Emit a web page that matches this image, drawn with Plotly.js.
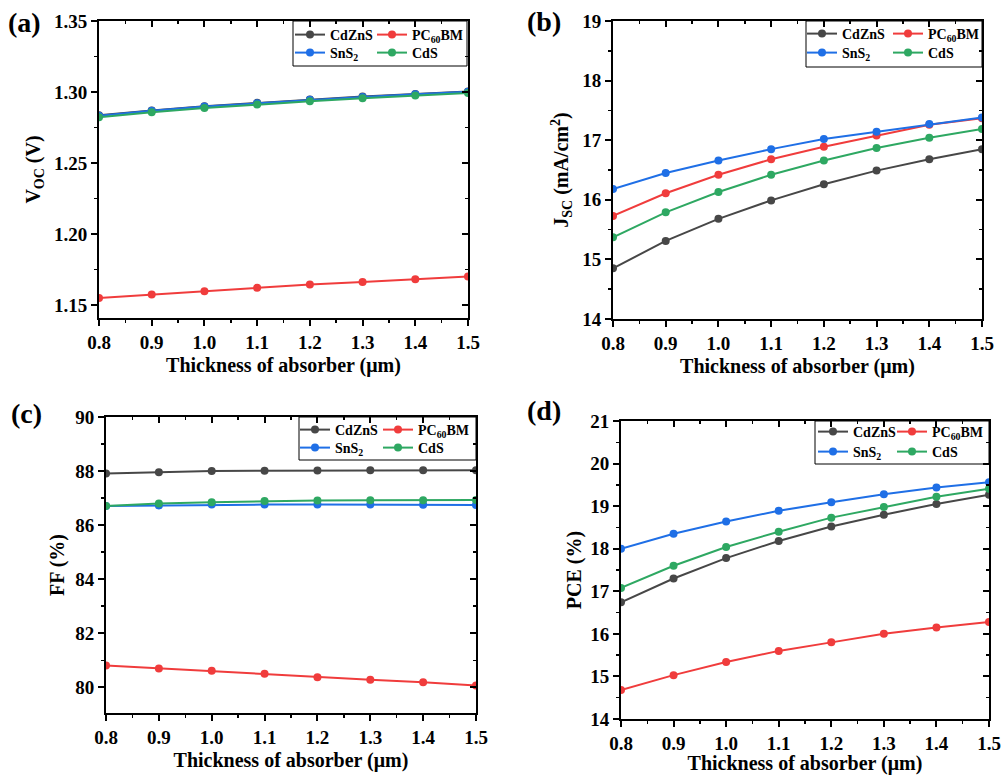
<!DOCTYPE html>
<html>
<head>
<meta charset="utf-8">
<script src="https://cdn.plot.ly/plotly-3.0.1.min.js"></script>
<style>html,body{margin:0;padding:0;background:#fff;}#chart{width:1003px;height:775px;}</style>
</head>
<body>
<div id="chart"></div>
<script>
// ---------------- data ----------------
const thickness = [0.8, 0.9, 1.0, 1.1, 1.2, 1.3, 1.4, 1.5];
const seriesNames = ['CdZnS', 'PC<sub>60</sub>BM', 'SnS<sub>2</sub>', 'CdS'];
const xTitle = 'Thickness of absorber (\u03bcm)';
const yTitles = ['V<sub>OC</sub> (V)', 'J<sub>SC</sub> (mA/cm<sup>2</sup>)', 'FF (%)', 'PCE (%)'];
const panelLabels = ['(a)', '(b)', '(c)', '(d)'];

// (a) Voc (V)
const vocCdZnS = [1.2836, 1.2871, 1.2900, 1.2924, 1.2947, 1.2968, 1.2987, 1.3004];
const vocPC60BM = [1.1551, 1.1575, 1.1599, 1.1622, 1.1646, 1.1664, 1.1683, 1.1702];
const vocSnS2 = [1.2834, 1.2869, 1.2898, 1.2922, 1.2945, 1.2966, 1.2985, 1.3002];
const vocCdS = [1.2822, 1.2858, 1.2887, 1.2912, 1.2935, 1.2956, 1.2976, 1.2994];

// (b) Jsc (mA/cm2)
const jscCdZnS = [14.85, 15.31, 15.68, 15.99, 16.26, 16.49, 16.68, 16.85];
const jscPC60BM = [15.73, 16.11, 16.42, 16.68, 16.89, 17.08, 17.26, 17.37];
const jscSnS2 = [16.18, 16.45, 16.66, 16.85, 17.02, 17.14, 17.27, 17.38];
const jscCdS = [15.37, 15.79, 16.13, 16.42, 16.66, 16.87, 17.04, 17.19];

// (c) FF (%)
const ffCdZnS = [87.91, 87.96, 88.00, 88.01, 88.02, 88.03, 88.03, 88.03];
const ffPC60BM = [80.81, 80.70, 80.61, 80.50, 80.37, 80.28, 80.19, 80.07];
const ffSnS2 = [86.71, 86.73, 86.76, 86.76, 86.76, 86.76, 86.75, 86.74];
const ffCdS = [86.71, 86.80, 86.85, 86.89, 86.91, 86.92, 86.92, 86.93];

// (d) PCE (%)
const pceCdZnS = [16.74, 17.30, 17.78, 18.18, 18.52, 18.80, 19.05, 19.27];
const pcePC60BM = [14.68, 15.03, 15.34, 15.60, 15.80, 16.00, 16.15, 16.28];
const pceSnS2 = [18.00, 18.35, 18.64, 18.89, 19.09, 19.28, 19.44, 19.56];
const pceCdS = [17.08, 17.60, 18.04, 18.40, 18.73, 18.98, 19.22, 19.41];

const panelData = [
  [vocCdZnS, vocPC60BM, vocSnS2, vocCdS],
  [jscCdZnS, jscPC60BM, jscSnS2, jscCdS],
  [ffCdZnS, ffPC60BM, ffSnS2, ffCdS],
  [pceCdZnS, pcePC60BM, pceSnS2, pceCdS]
];

// ---------------- styling / layout ----------------
const W = 1003, H = 775;
const colors = ['#474747', '#f03c3c', '#1f6fe6', '#2ea862'];
const FONT = 'Liberation Serif';
const px2x = p => p / W;
const px2y = p => 1 - p / H;

// plot-area rectangles in px: [left, right, top, bottom]
const boxes = [
  [99, 468, 21, 318],
  [613, 982, 21, 319],
  [106, 476, 417, 713],
  [621, 989, 421, 719]
];
const yRanges = [[1.141, 1.35], [14, 19], [79.05, 90], [14, 21]];
const yDticks = [0.05, 1, 2, 1];
const yTickFormat = ['.2f', 'd', 'd', 'd'];
const yStandoff = [8, 8, 5, 3];
const xStandoff = [6, 6, 6, 6];
// legend geometry in px: [col1 line start, col2 line start, row1 y, row2 y, box left, box right, box top, box bottom]
const legGeo = [
  [295, 377, 35, 53, 293, 467, 21, 66],
  [807, 893, 34, 53, 806, 982, 21, 67],
  [300, 383, 430, 448, 299, 476, 417, 460],
  [818, 897, 432, 452, 815, 989, 421, 464]
];
const panelLabelPos = [[24, 23], [544, 21], [26, 413], [544, 410]];

const traces = [];
const layout = {
  width: W, height: H,
  margin: {l: 0, r: 0, t: 0, b: 0},
  paper_bgcolor: '#ffffff',
  plot_bgcolor: 'rgba(0,0,0,0)',
  showlegend: true,
  font: {family: FONT, color: '#000', size: 19, weight: 'bold'},
  annotations: [],
  shapes: []
};

for (let p = 0; p < 4; p++) {
  const n = p + 1;
  const xid = n === 1 ? 'x' : 'x' + n;
  const yid = n === 1 ? 'y' : 'y' + n;
  const xo = 'x' + (n + 4), yo = 'y' + (n + 4);
  const b = boxes[p];
  const g = legGeo[p];
  const xDom = [px2x(b[0]), px2x(b[1])];
  const yDom = [px2y(b[3]), px2y(b[2])];

  for (let s = 0; s < 4; s++) {
    const k = p * 4 + s + 1;
    const legId = 'legend' + (k === 1 ? '' : k);
    traces.push({
      type: 'scatter', mode: 'lines+markers',
      x: thickness, y: panelData[p][s],
      name: seriesNames[s],
      xaxis: xid, yaxis: yid,
      legend: legId,
      line: {color: colors[s], width: 2},
      marker: {color: colors[s], size: 8, symbol: 'circle'},
      cliponaxis: true
    });
    const colIdx = (s === 0 || s === 2) ? 0 : 1; // CdZnS, SnS2 left; PC60BM, CdS right
    const row = s < 2 ? 0 : 1;
    const lineStart = colIdx === 0 ? g[0] : g[1];
    const yc = row === 0 ? g[2] : g[3];
    layout[legId] = {
      x: px2x(lineStart - 5), xanchor: 'left',
      y: px2y(yc), yanchor: 'middle',
      bgcolor: 'rgba(0,0,0,0)', borderwidth: 0,
      font: {family: FONT, size: 14, color: '#000', weight: 'bold'},
      itemwidth: 30, tracegroupgap: 0
    };
  }
  // empty trace creating overlay subplot for inside mirrored ticks
  traces.push({type: 'scatter', mode: 'lines', x: [], y: [], xaxis: xo, yaxis: yo, showlegend: false, hoverinfo: 'skip'});

  layout['xaxis' + (n === 1 ? '' : n)] = {
    domain: xDom, anchor: yid, range: [0.8, 1.5],
    showline: true, linewidth: 2, linecolor: '#000', mirror: true,
    ticks: 'outside', ticklen: 6, tickwidth: 2, tickcolor: '#000',
    dtick: 0.1, tick0: 0.8, tickformat: '.1f',
    minor: {ticks: 'outside', ticklen: 3, tickwidth: 1.5, tickcolor: '#000', dtick: 0.05},
    showgrid: false, zeroline: false,
    tickfont: {family: FONT, size: 19, color: '#000', weight: 'bold'},
    title: {text: xTitle, font: {family: FONT, size: 20, color: '#000', weight: 'bold'}, standoff: xStandoff[p]}
  };
  layout['yaxis' + (n === 1 ? '' : n)] = {
    domain: yDom, anchor: xid, range: yRanges[p],
    showline: true, linewidth: 2, linecolor: '#000', mirror: true,
    ticks: 'outside', ticklen: 6, tickwidth: 2, tickcolor: '#000',
    dtick: yDticks[p], tickformat: yTickFormat[p],
    minor: {ticks: 'outside', ticklen: 3, tickwidth: 1.5, tickcolor: '#000', dtick: yDticks[p] / 2},
    showgrid: false, zeroline: false,
    tickfont: {family: FONT, size: 19, color: '#000', weight: 'bold'},
    title: {text: yTitles[p], font: {family: FONT, size: 20, color: '#000', weight: 'bold'}, standoff: yStandoff[p]}
  };
  layout['xaxis' + (n + 4)] = {
    overlaying: xid, side: 'top', anchor: yo, range: [0.8, 1.5],
    showline: false, showticklabels: false,
    ticks: 'inside', ticklen: 6, tickwidth: 2, tickcolor: '#000',
    dtick: 0.1, tick0: 0.8,
    minor: {ticks: 'inside', ticklen: 3, tickwidth: 1.5, tickcolor: '#000', dtick: 0.05},
    showgrid: false, zeroline: false
  };
  layout['yaxis' + (n + 4)] = {
    overlaying: yid, side: 'right', anchor: xo, range: yRanges[p],
    showline: false, showticklabels: false,
    ticks: 'inside', ticklen: 6, tickwidth: 2, tickcolor: '#000',
    dtick: yDticks[p],
    minor: {ticks: 'inside', ticklen: 3, tickwidth: 1.5, tickcolor: '#000', dtick: yDticks[p] / 2},
    showgrid: false, zeroline: false
  };
  // legend frame
  layout.shapes.push({
    type: 'rect', xref: 'paper', yref: 'paper',
    x0: px2x(g[4]), x1: px2x(g[5]), y0: px2y(g[7]), y1: px2y(g[6]),
    line: {color: '#000', width: 1}, fillcolor: 'rgba(0,0,0,0)', layer: 'above'
  });
  layout.annotations.push({
    xref: 'paper', yref: 'paper', x: px2x(panelLabelPos[p][0]), y: px2y(panelLabelPos[p][1]),
    xanchor: 'center', yanchor: 'middle', showarrow: false,
    text: panelLabels[p], font: {family: FONT, size: 28, color: '#000', weight: 'bold'}
  });
}

Plotly.newPlot('chart', traces, layout, {displayModeBar: false, staticPlot: true});
</script>
</body>
</html>
